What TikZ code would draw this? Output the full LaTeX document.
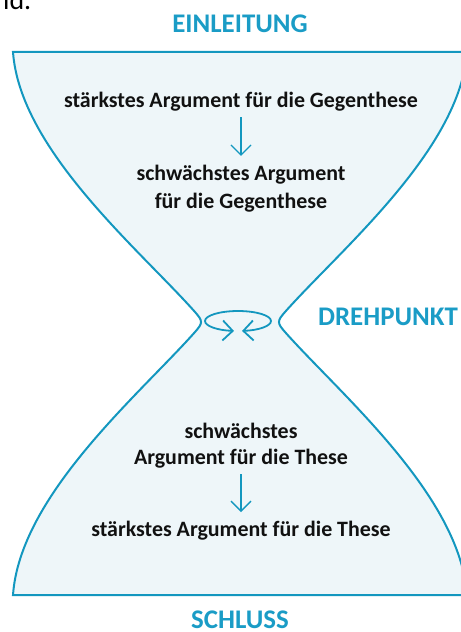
\documentclass[tikz,border=0pt]{standalone}
\usepackage{fontspec}
\setmainfont{Carlito}
\usetikzlibrary{arrows.meta}
\definecolor{glasrand}{HTML}{1397BF}
\definecolor{glasfill}{HTML}{EEF6F9}
\definecolor{titelblau}{HTML}{1A9CC6}
\definecolor{textschwarz}{HTML}{111111}
\begin{document}
\begin{tikzpicture}[x=1bp,y=-1bp,
    glas/.style={draw=glasrand,fill=glasfill,line width=2bp},
    titel/.style={font=\bfseries\fontsize{27}{30}\selectfont,text=titelblau,anchor=base},
    argument/.style={font=\bfseries\fontsize{22}{28}\selectfont,text=textschwarz,align=center},
    pfeil/.style={draw=glasrand,line width=1.4bp,-{Straight Barb[length=10bp,width=20bp]}},
    kreis/.style={draw=glasrand,line width=1.8bp,-{Straight Barb[length=10bp,width=20bp]}}]
  \useasboundingbox (0,0) rectangle (461,632);
  % Sanduhr
  \filldraw[glas] (13,52) -- (467,52)
    .. controls (460,150) and (340,250) .. (285,312)
    .. controls (277,321) and (277,323) .. (285,332)
    .. controls (340,394) and (460,495) .. (467,595)
    -- (13,595)
    .. controls (20,495) and (140,394) .. (195,332)
    .. controls (203,323) and (203,321) .. (195,312)
    .. controls (140,250) and (20,150) .. cycle;
  \node[anchor=base west,inner sep=0pt,font=\fontsize{28}{30}\selectfont] (rest) at (3,10) {ld.};
  \node[titel] (einl) at (240,33) {EINLEITUNG};
  \node[titel] (dreh) at (388,325) {DREHPUNKT};
  \node[titel] (schl) at (240,628) {SCHLUSS};
  \node[argument,anchor=base] (gegen1) at (241,108) {stärkstes Argument für die Gegenthese};
  \node[argument] (gegen2) at (241,189) {schwächstes Argument\\für die Gegenthese};
  \node[argument,font=\bfseries\fontsize{22}{26}\selectfont] (these1) at (241,446) {schwächstes\\Argument für die These};
  \node[argument,anchor=base] (these2) at (241,536) {stärkstes Argument für die These};
  \draw[pfeil,shorten <=2bp,shorten >=6bp] (gegen1) -- (gegen2);
  \draw[pfeil,shorten <=2bp,shorten >=5bp] (these1) -- (these2);
  % Drehung im Engpass
  \draw[kreis] (238,311) arc[start angle=270,end angle=97,x radius=33,y radius=10];
  \draw[kreis] (238,311) arc[start angle=270,end angle=443,x radius=33,y radius=10];
\end{tikzpicture}
\end{document}
